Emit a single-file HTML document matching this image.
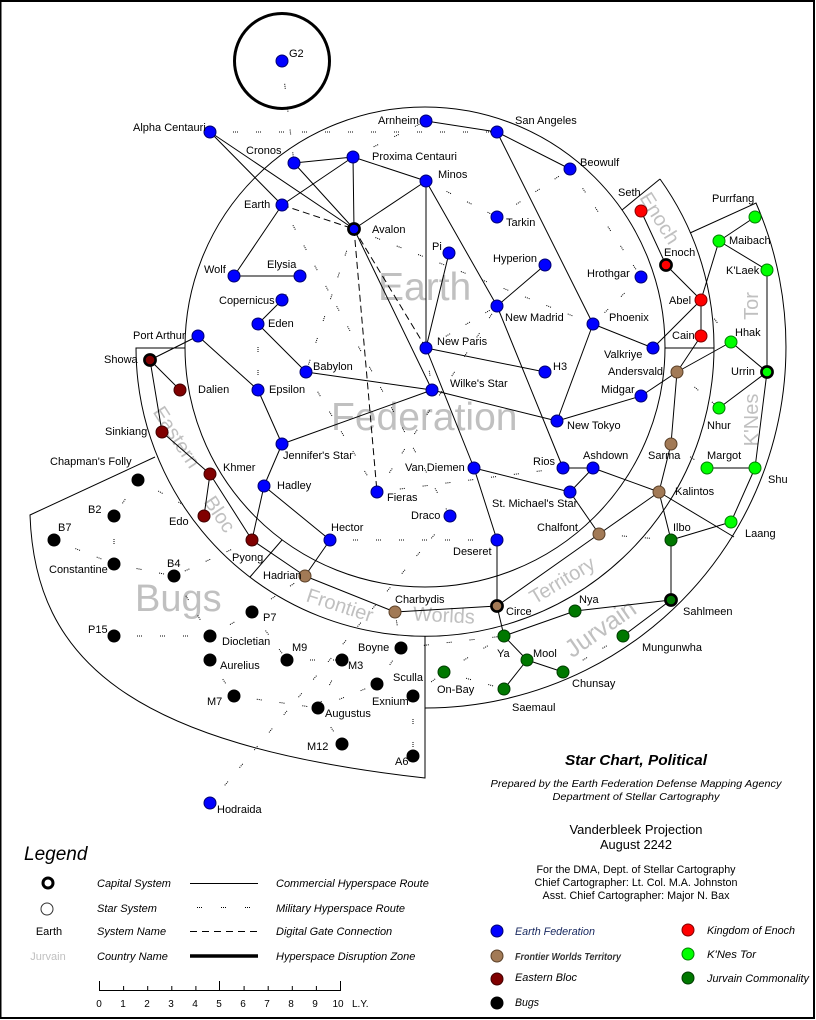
<!DOCTYPE html>
<html><head><meta charset="utf-8"><style>
html,body{margin:0;padding:0;background:#fff}
svg{display:block}
text{font-family:"Liberation Sans",Arial,sans-serif}
.l{font-size:11px;fill:#000}
.g{fill:#c0c0c0}
</style></head><body>
<svg width="816" height="1020" viewBox="0 0 816 1020" xmlns="http://www.w3.org/2000/svg">
<rect x="0" y="0" width="816" height="1020" fill="#fff"/>
<rect x="0.5" y="1" width="813.5" height="1017" fill="none" stroke="#000" stroke-width="2"/>

<!-- country names (behind) -->
<g class="g">
<text x="378" y="300" font-size="39">Earth</text>
<text x="331" y="430" font-size="39">Federation</text>
<text x="135" y="611" font-size="38">Bugs</text>
<text transform="translate(177,437) rotate(57)" text-anchor="middle" y="7" font-size="20">Eastern</text>
<text transform="translate(220,514) rotate(56)" text-anchor="middle" y="7" font-size="20">Bloc</text>
<text transform="translate(660,218) rotate(58)" text-anchor="middle" y="7" font-size="20">Enoch</text>
<text transform="translate(340,605) rotate(18)" text-anchor="middle" y="7" font-size="20">Frontier</text>
<text transform="translate(444,615) rotate(3)" text-anchor="middle" y="7" font-size="20">Worlds</text>
<text transform="translate(562,580) rotate(-31)" text-anchor="middle" y="7" font-size="20">Territory</text>
<text transform="translate(600,628) rotate(-35)" text-anchor="middle" y="9" font-size="25">Jurvain</text>
<text transform="translate(751,306) rotate(-90)" text-anchor="middle" y="7" font-size="20">Tor</text>
<text transform="translate(751,420) rotate(-90)" text-anchor="middle" y="7" font-size="20">K'Nes</text>
</g>

<!-- boundaries -->
<g fill="none" stroke="#000" stroke-width="1">
<circle cx="425" cy="347" r="240"/>
<path d="M660,179 A289,289 0 1 1 136,348 L185,348"/>
<path d="M622,210 L660,179"/>
<path d="M665,348 L714,348"/>
<path d="M690,233 L756,203 A361,361 0 0 1 425,708"/>
<path d="M282,540 L250,577"/>
<path d="M155,457 L30,515 C35,660 130,745 425,778 L425,636"/>
</g>
<circle cx="282" cy="61" r="47.5" fill="none" stroke="#000" stroke-width="3"/>

<!-- commercial routes -->
<path fill="none" stroke="#000" stroke-width="1" d="M210,132L354,229 M210,132L282,205 M294,163L353,157 M294,163L354,229 M353,157L282,205 M353,157L354,229 M353,157L426,181 M354,229L426,181 M282,205L234,276 M234,276L300,276 M354,229L432,390 M426,121L497,132 M497,132L570,169 M497,132L593,324 M426,181L426,348 M426,181L497,306 M449,253L426,348 M497,306L545,265 M497,306L563,468 M426,348L545,372 M426,348L474,468 M306,372L432,390 M432,390L557,421 M282,444L432,390 M593,324L653,348 M593,324L557,421 M653,348L701,300 M641,211L666,265 M666,265L701,300 M701,300L701,336 M701,300L719,241 M719,241L755,217 M719,241L767,270 M767,270L767,372 M701,336L677,372 M677,372L731,342 M731,342L767,372 M677,372L641,396 M641,396L557,421 M767,372L719,408 M767,372L755,468 M707,468L755,468 M755,468L731,522 M731,522L671,540 M677,372L671,444 M671,444L659,492 M659,492L671,540 M659,492L593,468 M659,492L599,534 M599,534L570,492 M563,468L593,468 M593,468L570,492 M474,468L570,492 M599,534L497,606 M474,468L497,540 M497,540L497,606 M497,606L395,612 M395,612L305,576 M305,576L252,540 M305,576L330,540 M330,540L264,486 M264,486L252,540 M264,486L282,444 M282,444L258,390 M258,390L198,336 M198,336L150,360 M150,360L180,390 M150,360L162,432 M162,432L210,474 M210,474L204,516 M210,474L252,540 M258,324L306,372 M258,324L282,300 M497,606L504,636 M504,636L575,611 M575,611L671,600 M671,540L671,600 M671,600L623,636 M504,636L527,660 M527,660L563,672 M527,660L504,689 M659,492L734,537"/>

<!-- digital gates -->
<path fill="none" stroke="#000" stroke-width="1" stroke-dasharray="7,4" d="M282,205L354,229 M354,229L377,492 M354,229L426,348"/>

<!-- military routes -->
<path fill="none" stroke="#000" stroke-width="1" stroke-dasharray="1,1,1,1,1,18" d="M282,61L294,163 M210,132L497,132 M353,157L426,121 M426,181L497,217 M497,217L570,169 M570,169L641,277 M641,277L593,324 M354,229L593,324 M426,348L497,306 M377,492L497,306 M426,348L432,390 M354,229L306,372 M282,205L450,516 M306,372L377,492 M377,492L563,468 M210,803L450,516 M330,540L497,540 M599,534L671,540 M671,444L707,468 M701,300L731,342 M677,372L719,408 M300,276L282,300 M258,324L258,390 M252,540L174,576 M138,480L114,516 M138,480L204,516 M114,516L114,564 M54,540L114,564 M114,564L174,576 M174,576L210,636 M114,636L210,636 M210,636L252,612 M252,612L287,660 M252,612L305,576 M287,660L342,660 M342,660L318,708 M210,660L234,696 M234,696L318,708 M318,708L342,744 M318,708L377,684 M377,684L401,648 M401,648L395,612 M401,648L504,636 M413,696L444,672 M413,696L413,756 M444,672L504,636 M444,672L504,689 M563,672L623,636"/>

<!-- nodes -->
<g fill="#0000ff" stroke="#000070" stroke-width="1">
<circle cx="282" cy="61" r="6"/><circle cx="210" cy="132" r="6"/><circle cx="294" cy="163" r="6"/><circle cx="353" cy="157" r="6"/><circle cx="282" cy="205" r="6"/><circle cx="234" cy="276" r="6"/><circle cx="300" cy="276" r="6"/><circle cx="426" cy="121" r="6"/><circle cx="497" cy="132" r="6"/><circle cx="570" cy="169" r="6"/><circle cx="426" cy="181" r="6"/><circle cx="497" cy="217" r="6"/><circle cx="449" cy="253" r="6"/><circle cx="545" cy="265" r="6"/><circle cx="641" cy="277" r="6"/><circle cx="497" cy="306" r="6"/><circle cx="593" cy="324" r="6"/><circle cx="426" cy="348" r="6"/><circle cx="653" cy="348" r="6"/><circle cx="545" cy="372" r="6"/><circle cx="432" cy="390" r="6"/><circle cx="641" cy="396" r="6"/><circle cx="557" cy="421" r="6"/><circle cx="282" cy="300" r="6"/><circle cx="258" cy="324" r="6"/><circle cx="198" cy="336" r="6"/><circle cx="306" cy="372" r="6"/><circle cx="258" cy="390" r="6"/><circle cx="282" cy="444" r="6"/><circle cx="264" cy="486" r="6"/><circle cx="377" cy="492" r="6"/><circle cx="330" cy="540" r="6"/><circle cx="474" cy="468" r="6"/><circle cx="563" cy="468" r="6"/><circle cx="593" cy="468" r="6"/><circle cx="570" cy="492" r="6"/><circle cx="450" cy="516" r="6"/><circle cx="497" cy="540" r="6"/><circle cx="210" cy="803" r="6"/>
</g>
<g fill="#ff0000" stroke="#800000" stroke-width="1">
<circle cx="641" cy="211" r="6"/><circle cx="701" cy="300" r="6"/><circle cx="701" cy="336" r="6"/>
</g>
<g fill="#00ff00" stroke="#008000" stroke-width="1">
<circle cx="755" cy="217" r="6"/><circle cx="719" cy="241" r="6"/><circle cx="767" cy="270" r="6"/><circle cx="731" cy="342" r="6"/><circle cx="719" cy="408" r="6"/><circle cx="707" cy="468" r="6"/><circle cx="755" cy="468" r="6"/><circle cx="731" cy="522" r="6"/>
</g>
<g fill="#a27a56" stroke="#5a4028" stroke-width="1">
<circle cx="677" cy="372" r="6"/><circle cx="671" cy="444" r="6"/><circle cx="659" cy="492" r="6"/><circle cx="599" cy="534" r="6"/><circle cx="395" cy="612" r="6"/><circle cx="305" cy="576" r="6"/>
</g>
<g fill="#800000" stroke="#400000" stroke-width="1">
<circle cx="180" cy="390" r="6"/><circle cx="162" cy="432" r="6"/><circle cx="210" cy="474" r="6"/><circle cx="204" cy="516" r="6"/><circle cx="252" cy="540" r="6"/>
</g>
<g fill="#007800" stroke="#003c00" stroke-width="1">
<circle cx="671" cy="540" r="6"/><circle cx="575" cy="611" r="6"/><circle cx="623" cy="636" r="6"/><circle cx="504" cy="636" r="6"/><circle cx="527" cy="660" r="6"/><circle cx="563" cy="672" r="6"/><circle cx="444" cy="672" r="6"/><circle cx="504" cy="689" r="6"/>
</g>
<g fill="#000" stroke="#000" stroke-width="1">
<circle cx="138" cy="480" r="6"/><circle cx="114" cy="516" r="6"/><circle cx="54" cy="540" r="6"/><circle cx="114" cy="564" r="6"/><circle cx="174" cy="576" r="6"/><circle cx="252" cy="612" r="6"/><circle cx="114" cy="636" r="6"/><circle cx="210" cy="636" r="6"/><circle cx="210" cy="660" r="6"/><circle cx="287" cy="660" r="6"/><circle cx="342" cy="660" r="6"/><circle cx="401" cy="648" r="6"/><circle cx="377" cy="684" r="6"/><circle cx="413" cy="696" r="6"/><circle cx="234" cy="696" r="6"/><circle cx="318" cy="708" r="6"/><circle cx="342" cy="744" r="6"/><circle cx="413" cy="756" r="6"/>
</g>
<!-- capitals -->
<g stroke="#000" stroke-width="2.6">
<circle cx="354" cy="229" r="5.6" fill="#0000ff"/>
<circle cx="666" cy="265" r="5.6" fill="#ff0000"/>
<circle cx="767" cy="372" r="5.6" fill="#00ff00"/>
<circle cx="150" cy="360" r="5.6" fill="#800000"/>
<circle cx="497" cy="606" r="5.6" fill="#a27a56"/>
<circle cx="671" cy="600" r="5.6" fill="#007800"/>
</g>

<!-- system labels -->
<g class="l">
<text x="289" y="57">G2</text>
<text x="133" y="131">Alpha Centauri</text>
<text x="246" y="154">Cronos</text>
<text x="372" y="160">Proxima Centauri</text>
<text x="244" y="208">Earth</text>
<text x="372" y="233">Avalon</text>
<text x="204" y="273">Wolf</text>
<text x="267" y="268">Elysia</text>
<text x="219" y="304">Copernicus</text>
<text x="268" y="327">Eden</text>
<text x="133" y="339">Port Arthur</text>
<text x="104" y="363">Showa</text>
<text x="198" y="393">Dalien</text>
<text x="313" y="370">Babylon</text>
<text x="269" y="393">Epsilon</text>
<text x="105" y="435">Sinkiang</text>
<text x="50" y="465">Chapman's Folly</text>
<text x="283" y="459">Jennifer's Star</text>
<text x="223" y="471">Khmer</text>
<text x="277" y="489">Hadley</text>
<text x="387" y="501">Fieras</text>
<text x="88" y="513">B2</text>
<text x="169" y="525">Edo</text>
<text x="58" y="531">B7</text>
<text x="331" y="531">Hector</text>
<text x="232" y="561">Pyong</text>
<text x="49" y="573">Constantine</text>
<text x="167" y="567">B4</text>
<text x="263" y="579">Hadrian</text>
<text x="395" y="603">Charbydis</text>
<text x="263" y="621">P7</text>
<text x="88" y="633">P15</text>
<text x="222" y="645">Diocletian</text>
<text x="292" y="651">M9</text>
<text x="358" y="651">Boyne</text>
<text x="220" y="669">Aurelius</text>
<text x="348" y="669">M3</text>
<text x="393" y="681">Sculla</text>
<text x="372" y="705">Exnium</text>
<text x="207" y="705">M7</text>
<text x="325" y="717">Augustus</text>
<text x="307" y="750">M12</text>
<text x="395" y="765">A6</text>
<text x="217" y="813">Hodraida</text>
<text x="378" y="124">Arnheim</text>
<text x="515" y="124">San Angeles</text>
<text x="580" y="166">Beowulf</text>
<text x="438" y="178">Minos</text>
<text x="618" y="196">Seth</text>
<text x="506" y="226">Tarkin</text>
<text x="712" y="202">Purrfang</text>
<text x="729" y="244">Maibach</text>
<text x="432" y="250">Pi</text>
<text x="664" y="256">Enoch</text>
<text x="493" y="262">Hyperion</text>
<text x="726" y="274">K'Laek</text>
<text x="587" y="277">Hrothgar</text>
<text x="669" y="304">Abel</text>
<text x="505" y="321">New Madrid</text>
<text x="609" y="321">Phoenix</text>
<text x="735" y="336">Hhak</text>
<text x="672" y="339">Cain</text>
<text x="437" y="345">New Paris</text>
<text x="604" y="358">Valkriye</text>
<text x="553" y="370">H3</text>
<text x="608" y="375">Andersvald</text>
<text x="731" y="375">Urrin</text>
<text x="450" y="387">Wilke's Star</text>
<text x="601" y="393">Midgar</text>
<text x="567" y="429">New Tokyo</text>
<text x="707" y="429">Nhur</text>
<text x="533" y="465">Rios</text>
<text x="583" y="459">Ashdown</text>
<text x="648" y="459">Sarma</text>
<text x="707" y="459">Margot</text>
<text x="405" y="471">Van Diemen</text>
<text x="768" y="483">Shu</text>
<text x="675" y="495">Kalintos</text>
<text x="492" y="507">St. Michael's Star</text>
<text x="411" y="519">Draco</text>
<text x="537" y="531">Chalfont</text>
<text x="673" y="531">Ilbo</text>
<text x="745" y="537">Laang</text>
<text x="453" y="555">Deseret</text>
<text x="579" y="603">Nya</text>
<text x="506" y="615">Circe</text>
<text x="683" y="615">Sahlmeen</text>
<text x="642" y="651">Mungunwha</text>
<text x="497" y="657">Ya</text>
<text x="533" y="657">Mool</text>
<text x="572" y="687">Chunsay</text>
<text x="437" y="693">On-Bay</text>
<text x="512" y="711">Saemaul</text>
</g>

<!-- title block -->
<g text-anchor="middle" fill="#000">
<text x="636" y="765" font-size="15" font-weight="bold" font-style="italic" textLength="142" lengthAdjust="spacingAndGlyphs">Star Chart, Political</text>
<text x="636" y="787" font-size="10" font-style="italic" textLength="291" lengthAdjust="spacingAndGlyphs">Prepared by the Earth Federation Defense Mapping Agency</text>
<text x="636" y="800" font-size="10" font-style="italic" textLength="167" lengthAdjust="spacingAndGlyphs">Department of Stellar Cartography</text>
<text x="636" y="834" font-size="13" textLength="133" lengthAdjust="spacingAndGlyphs">Vanderbleek Projection</text>
<text x="636" y="849" font-size="13" textLength="72" lengthAdjust="spacingAndGlyphs">August 2242</text>
<text x="636" y="873" font-size="11" textLength="199" lengthAdjust="spacingAndGlyphs">For the DMA, Dept. of Stellar Cartography</text>
<text x="636" y="886" font-size="11" textLength="203" lengthAdjust="spacingAndGlyphs">Chief Cartographer: Lt. Col. M.A. Johnston</text>
<text x="636" y="899" font-size="11" textLength="187" lengthAdjust="spacingAndGlyphs">Asst. Chief Cartographer: Major N. Bax</text>
</g>

<!-- country legend -->
<circle cx="497" cy="931" r="6" fill="#0000ff" stroke="#000070"/>
<circle cx="497" cy="956" r="6" fill="#a27a56" stroke="#5a4028"/>
<circle cx="497" cy="979" r="6" fill="#800000" stroke="#400000"/>
<circle cx="497" cy="1003" r="6" fill="#000" stroke="#000"/>
<circle cx="688" cy="930" r="6" fill="#ff0000" stroke="#800000"/>
<circle cx="688" cy="954" r="6" fill="#00ff00" stroke="#008000"/>
<circle cx="688" cy="978" r="6" fill="#007800" stroke="#003c00"/>
<g font-size="11" font-style="italic" fill="#000">
<text x="515" y="935" fill="#1a2a60" textLength="80" lengthAdjust="spacingAndGlyphs">Earth Federation</text>
<text x="515" y="960" font-weight="bold" font-size="10" fill="#333" textLength="106" lengthAdjust="spacingAndGlyphs">Frontier Worlds Territory</text>
<text x="515" y="981" textLength="62" lengthAdjust="spacingAndGlyphs">Eastern Bloc</text>
<text x="515" y="1006" textLength="24" lengthAdjust="spacingAndGlyphs">Bugs</text>
<text x="707" y="934" textLength="88" lengthAdjust="spacingAndGlyphs">Kingdom of Enoch</text>
<text x="707" y="958" textLength="49" lengthAdjust="spacingAndGlyphs">K'Nes Tor</text>
<text x="707" y="982" textLength="102" lengthAdjust="spacingAndGlyphs">Jurvain Commonality</text>
</g>

<!-- legend -->
<text x="24" y="860" font-size="19" font-style="italic" fill="#000">Legend</text>
<circle cx="48" cy="883" r="5" fill="#fff" stroke="#000" stroke-width="3"/>
<circle cx="47" cy="909" r="6" fill="#fff" stroke="#333" stroke-width="1"/>
<text x="49" y="935" font-size="11" text-anchor="middle" fill="#000">Earth</text>
<text x="48" y="960" font-size="11" text-anchor="middle" fill="#c0c0c0">Jurvain</text>
<g font-size="11" font-style="italic" fill="#000">
<text x="97" y="887">Capital System</text>
<text x="97" y="912">Star System</text>
<text x="97" y="935">System Name</text>
<text x="97" y="960">Country Name</text>
<text x="276" y="887">Commercial Hyperspace Route</text>
<text x="276" y="912">Military Hyperspace Route</text>
<text x="276" y="935">Digital Gate Connection</text>
<text x="276" y="960">Hyperspace Disruption Zone</text>
</g>
<line x1="190" y1="883.5" x2="258" y2="883.5" stroke="#000" stroke-width="1"/>
<line x1="197" y1="907.5" x2="251" y2="907.5" stroke="#000" stroke-width="1" stroke-dasharray="1,1,1,1,1,19"/>
<line x1="190" y1="931.5" x2="258" y2="931.5" stroke="#000" stroke-width="1" stroke-dasharray="7,5"/>
<line x1="190" y1="956" x2="258" y2="956" stroke="#000" stroke-width="3.5"/>

<!-- scale -->
<g stroke="#000" stroke-width="1" fill="none">
<line x1="99" y1="990.5" x2="340" y2="990.5"/>
<path d="M99.5,981V991 M123.6,986V991 M147.7,986V991 M171.8,986V991 M195.9,986V991 M219.5,981V991 M244.1,986V991 M268.2,986V991 M292.3,986V991 M316.4,986V991 M340.5,981V991"/>
</g>
<g font-size="10" text-anchor="middle" fill="#000">
<text x="99" y="1007">0</text><text x="123" y="1007">1</text><text x="147" y="1007">2</text><text x="171" y="1007">3</text><text x="195" y="1007">4</text><text x="219" y="1007">5</text><text x="243" y="1007">6</text><text x="267" y="1007">7</text><text x="291" y="1007">8</text><text x="315" y="1007">9</text><text x="338" y="1007">10</text>
</g>
<text x="352" y="1007" font-size="10" fill="#000">L.Y.</text>
</svg>
</body></html>
